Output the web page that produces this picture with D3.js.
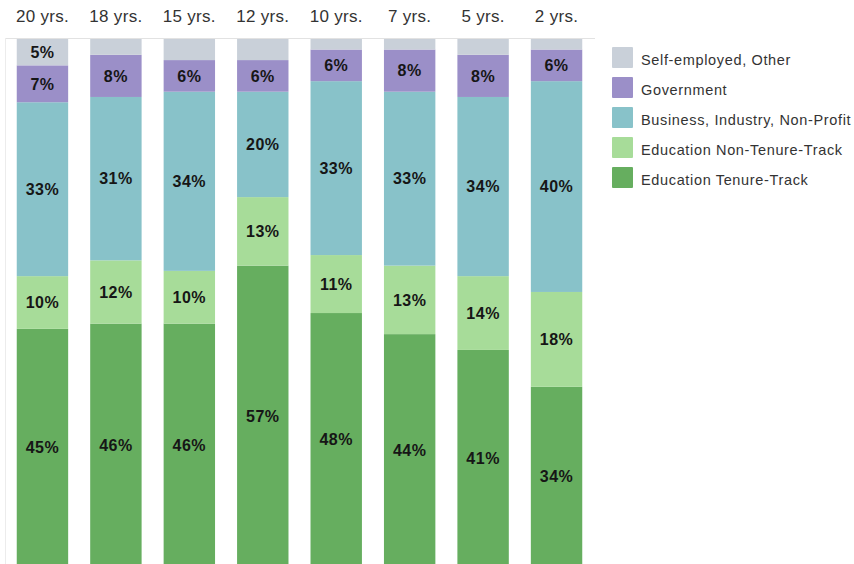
<!DOCTYPE html>
<html>
<head>
<meta charset="utf-8">
<script src="https://cdn.jsdelivr.net/npm/d3@7"></script>
<style>
  html, body { margin: 0; padding: 0; background: #fff; }
  svg { display: block; font-family: "Liberation Sans", Arial, sans-serif; }
</style>
</head>
<body>
<svg id="chart" width="854" height="564"></svg>
<script>
// Career cohorts (years since degree) and the share of each employment sector, in percent
const cohorts = ["20 yrs.", "18 yrs.", "15 yrs.", "12 yrs.", "10 yrs.", "7 yrs.", "5 yrs.", "2 yrs."];

const tenureTrack    = [45, 46, 46, 57, 48, 44, 41, 34];
const nonTenureTrack = [10, 12, 10, 13, 11, 13, 14, 18];
const business       = [33, 31, 34, 20, 33, 33, 34, 40];
const government     = [7, 8, 6, 6, 6, 8, 8, 6];
const selfEmployed   = [5, 3, 4, 4, 2, 2, 3, 2];

const sectorNames = [
  "Education Tenure-Track",
  "Education Non-Tenure-Track",
  "Business, Industry, Non-Profit",
  "Government",
  "Self-employed, Other"
];
const sectorColors = ["#66ae5f", "#a7dc99", "#88c2c9", "#9b8fc8", "#c9d0d9"];

const seriesValues = [tenureTrack, nonTenureTrack, business, government, selfEmployed];

// Build rows for d3.stack
const rows = cohorts.map((c, i) => {
  const r = { cohort: c };
  sectorNames.forEach((s, k) => { r[s] = seriesValues[k][i]; });
  return r;
});

const svg = d3.select("#chart");

const plot = { left: 5, right: 594, top: 39, bottom: 566 };

const x = d3.scaleBand()
  .domain(cohorts)
  .range([plot.left, plot.right])
  .paddingInner(0.3)
  .paddingOuter(0.16);

const y = d3.scaleLinear()
  .domain([0, 100])
  .range([plot.bottom, plot.top]);

const color = d3.scaleOrdinal().domain(sectorNames).range(sectorColors);

const stacked = d3.stack().keys(sectorNames)(rows);

// Frame lines along the top and left of the plot
svg.append("line")
  .attr("x1", plot.left).attr("x2", plot.right + 1)
  .attr("y1", plot.top - 0.5).attr("y2", plot.top - 0.5)
  .attr("stroke", "#e2e2e2").attr("stroke-width", 1);
svg.append("line")
  .attr("x1", plot.left + 0.5).attr("x2", plot.left + 0.5)
  .attr("y1", plot.top - 1).attr("y2", 564)
  .attr("stroke", "#ececec").attr("stroke-width", 1);

// Stacked bars
const layers = svg.append("g").selectAll("g")
  .data(stacked)
  .join("g")
  .attr("fill", d => color(d.key));

layers.selectAll("rect")
  .data(d => d.map(p => ({ p, key: d.key })))
  .join("rect")
  .attr("x", d => x(d.p.data.cohort))
  .attr("width", x.bandwidth())
  .attr("y", d => y(d.p[1]))
  .attr("height", d => y(d.p[0]) - y(d.p[1]));

// Percentage labels centred in each segment (tiny slivers stay unlabeled)
layers.selectAll("text")
  .data(d => d.map(p => ({ p, key: d.key })).filter(d => d.p[1] - d.p[0] >= 5))
  .join("text")
  .attr("x", d => x(d.p.data.cohort) + x.bandwidth() / 2)
  .attr("y", d => (y(d.p[0]) + y(d.p[1])) / 2)
  .attr("dy", "0.36em")
  .attr("text-anchor", "middle")
  .attr("fill", "#161616")
  .attr("font-weight", "bold")
  .attr("font-size", 16)
  .attr("letter-spacing", 0.5)
  .text(d => (d.p[1] - d.p[0]) + "%");

// Cohort labels above the bars
const xAxis = d3.axisTop(x).tickSize(0).tickPadding(0);
const gx = svg.append("g")
  .attr("transform", `translate(0, 22)`)
  .call(xAxis);
gx.select(".domain").remove();
gx.selectAll("text")
  .attr("font-family", "\"Liberation Sans\", Arial, sans-serif")
  .attr("font-size", 17)
  .attr("letter-spacing", 0.3)
  .attr("fill", "#333")
  .attr("dy", 0);

// Legend, top entry first
const legendOrder = sectorNames.slice().reverse();
const legend = svg.append("g")
  .attr("transform", "translate(612, 47)");
const item = legend.selectAll("g")
  .data(legendOrder)
  .join("g")
  .attr("transform", (d, i) => `translate(0, ${i * 30})`);
item.append("rect")
  .attr("width", 21).attr("height", 21)
  .attr("rx", 1)
  .attr("fill", d => color(d));
item.append("text")
  .attr("x", 29)
  .attr("y", 18)
  .attr("font-size", 14.5)
  .attr("letter-spacing", 0.65)
  .attr("fill", "#333")
  .text(d => d);
</script>
</body>
</html>
